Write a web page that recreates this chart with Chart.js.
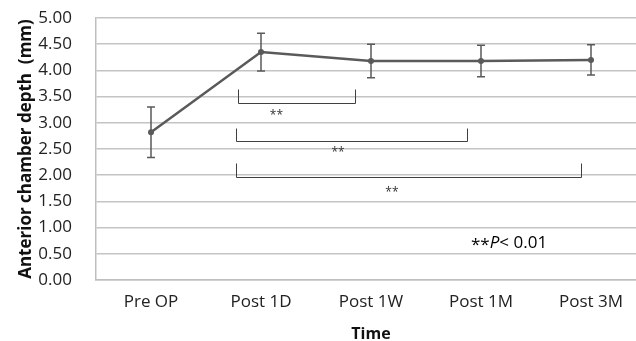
<!DOCTYPE html>
<html>
<head>
<meta charset="utf-8">
<script src="https://cdn.jsdelivr.net/npm/chart.js@4/dist/chart.umd.min.js"></script>
<style>
html,body{margin:0;padding:0;background:#fff;overflow:hidden;}
#wrap{width:650px;height:341px;position:relative;}
</style>
</head>
<body>
<div id="wrap"><canvas id="c"></canvas></div>
<script>
const categories = ['Pre OP', 'Post 1D', 'Post 1W', 'Post 1M', 'Post 3M'];
const meanValues = [2.82, 4.35, 4.18, 4.18, 4.20];
const errorValues = [0.48, 0.36, 0.32, 0.30, 0.29];
const yMin = 0, yMax = 5, yStep = 0.5;
// significance brackets: category-index span, top/bottom in mm, label position
const bracketFrom = [0.79, 0.77, 0.77];
const bracketTo = [1.85, 2.87, 3.91];
const bracketTop = [3.64, 2.91, 2.23];
const bracketBottom = [3.38, 2.66, 1.96];
const bracketLabelX = [1.14, 1.70, 2.19];
const bracketLabelY = [3.13, 2.44, 1.67];
const bracketLabel = '**';
const noteX = 3.0, noteY = 0.71;

const FONT = "'Open Sans', sans-serif";

function catPixel(xs, v) {
  const p0 = xs.getPixelForValue(0), p1 = xs.getPixelForValue(1);
  return p0 + (p1 - p0) * v;
}

const overlay = {
  id: 'overlay',
  afterDatasetsDraw(chart) {
    const ctx = chart.ctx, xs = chart.scales.x, ys = chart.scales.y;
    ctx.save();
    // error bars
    ctx.strokeStyle = '#5a5a5a';
    ctx.lineWidth = 1.5;
    meanValues.forEach((m, i) => {
      const x = xs.getPixelForValue(i);
      const yt = ys.getPixelForValue(m + errorValues[i]);
      const yb = ys.getPixelForValue(m - errorValues[i]);
      ctx.beginPath();
      ctx.moveTo(x, yt); ctx.lineTo(x, yb);
      ctx.moveTo(x - 4, yt); ctx.lineTo(x + 4, yt);
      ctx.moveTo(x - 4, yb); ctx.lineTo(x + 4, yb);
      ctx.stroke();
    });
    // brackets
    ctx.strokeStyle = '#404040';
    ctx.lineWidth = 1;
    for (let i = 0; i < bracketFrom.length; i++) {
      const x1 = Math.round(catPixel(xs, bracketFrom[i])) + 0.5;
      const x2 = Math.round(catPixel(xs, bracketTo[i])) + 0.5;
      const yt = Math.round(ys.getPixelForValue(bracketTop[i])) + 0.5;
      const yb = Math.round(ys.getPixelForValue(bracketBottom[i])) + 0.5;
      ctx.beginPath();
      ctx.moveTo(x1, yt); ctx.lineTo(x1, yb); ctx.lineTo(x2, yb); ctx.lineTo(x2, yt);
      ctx.stroke();
      ctx.fillStyle = '#333';
      ctx.font = "12px " + FONT;
      ctx.textAlign = 'center';
      ctx.textBaseline = 'middle';
      ctx.fillText(bracketLabel, catPixel(xs, bracketLabelX[i]), ys.getPixelForValue(bracketLabelY[i]));
    }
    // p-value note
    let x = catPixel(xs, noteX) - 10;
    const y = ys.getPixelForValue(noteY);
    ctx.fillStyle = '#000';
    ctx.textAlign = 'left';
    ctx.textBaseline = 'middle';
    ctx.font = "17px " + FONT;
    ctx.fillText('**', x, y + 2); x += ctx.measureText('**').width;
    ctx.font = "italic 17px " + FONT;
    ctx.fillText('P', x, y); x += ctx.measureText('P').width;
    ctx.font = "17px " + FONT;
    ctx.fillText('< 0.01', x, y);
    ctx.restore();
  }
};

new Chart(document.getElementById('c'), {
  type: 'line',
  data: {
    labels: categories,
    datasets: [{
      data: meanValues,
      borderColor: '#5a5a5a',
      backgroundColor: '#5a5a5a',
      borderWidth: 2.5,
      pointRadius: 3,
      pointBorderWidth: 0,
      tension: 0
    }]
  },
  options: {
    responsive: true,
    maintainAspectRatio: false,
    animation: false,
    layout: { padding: { top: 18, right: 3, left: 0, bottom: 0 } },
    plugins: { legend: { display: false }, tooltip: { enabled: false } },
    scales: {
      x: {
        offset: true,
        grid: { display: false, drawTicks: false },
        border: { display: true, color: '#bfbfbf', width: 1.5 },
        ticks: { color: '#222', font: { family: FONT, size: 17 }, padding: 12, maxRotation: 0 },
        title: { display: true, text: 'Time', color: '#111', font: { family: FONT, size: 16, weight: 'bold' }, padding: { top: 0, bottom: -3 } },
        afterFit(s) { s.height = 61; }
      },
      y: {
        min: yMin, max: yMax,
        grid: { color: '#c4c4c4', lineWidth: 1.5, drawTicks: false },
        border: { display: true, color: '#bfbfbf', width: 1.5 },
        ticks: { stepSize: yStep, color: '#222', font: { family: FONT, size: 17 }, padding: 24,
          callback: v => v.toFixed(2) },
        title: { display: true, text: 'Anterior chamber depth  (mm)', color: '#111', font: { family: FONT, size: 17, weight: 'bold' }, padding: { top: 16, bottom: 0 } },
        afterFit(s) { s.width = 96; s.paddingTop = 0; s.paddingBottom = 0; }
      }
    }
  },
  plugins: [overlay]
});
</script>
</body>
</html>
